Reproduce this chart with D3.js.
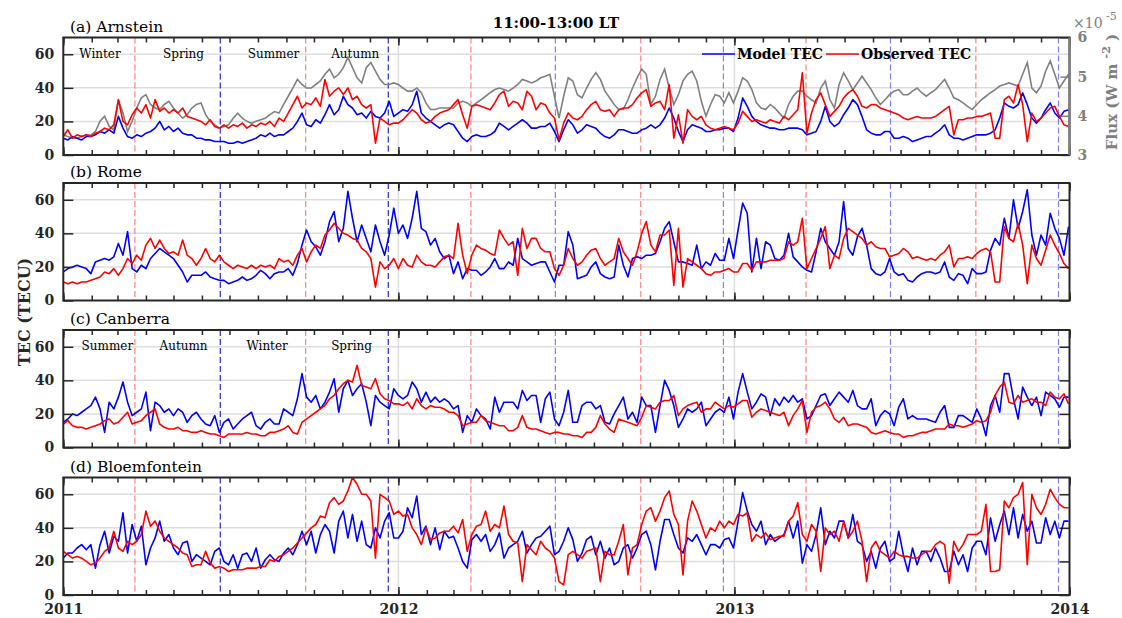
<!DOCTYPE html>
<html>
<head>
<meta charset="utf-8">
<script src="https://cdn.jsdelivr.net/npm/d3@7"></script>
<style>
  body { margin: 0; background: #fff; }
  text { font-family: "DejaVu Serif", serif; }
</style>
</head>
<body>
<div id="chart"></div>
<script>
const width = 1122;
const height = 618;

// one value every 5 days, starting 1 Jan 2011
const startDate = new Date(2011, 0, 1);
const stepDays = 5;

const stations = ['(a) Arnstein', '(b) Rome', '(c) Canberra', '(d) Bloemfontein'];
const yTicks = [0, 20, 40, 60];
const fluxTicks = [3, 4, 5, 6];
const yearLabels = ['2011', '2012', '2013', '2014'];
const seasonsNorth = ['Winter', 'Spring', 'Summer', 'Autumn'];
const seasonsSouth = ['Summer', 'Autumn', 'Winter', 'Spring'];
const seasonLabelDatesA = ['2011-02-10', '2011-05-12', '2011-08-18', '2011-11-15'];
const seasonLabelDatesC = ['2011-02-18', '2011-05-12', '2011-08-11', '2011-11-11'];
const equinoxDates = ['2011-03-20', '2011-09-22', '2012-03-20', '2012-09-21', '2013-03-20', '2013-09-21'];
const solsticeDates = ['2011-06-21', '2011-12-21', '2012-06-20', '2012-12-20', '2013-06-20', '2013-12-20'];

// Arnstein
const arnModel = [
  10, 9, 11, 10, 9, 11, 11, 12, 14, 13, 15, 13, 23, 16, 11, 10, 12, 11, 13, 14, 16, 20, 15, 17,
  14, 16, 13, 12, 12, 10, 10, 9, 9, 8, 8, 8, 7, 7, 8, 7, 8, 9, 10, 12, 11, 13, 11, 12,
  12, 14, 16, 20, 25, 18, 17, 21, 19, 24, 30, 24, 27, 35, 30, 28, 24, 25, 22, 26, 23, 22, 25, 32, 23,
  25, 27, 26, 30, 38, 25, 22, 20, 18, 16, 18, 19, 18, 14, 10, 8, 11, 12, 11, 11, 12, 14, 19, 17,
  15, 17, 19, 21, 19, 16, 16, 17, 17, 19, 14, 8, 15, 21, 18, 13, 15, 18, 17, 16, 13, 11, 10, 12,
  15, 15, 14, 13, 13, 15, 16, 18, 16, 18, 22, 28, 22, 14, 8, 15, 18, 17, 16, 14, 14, 15, 15, 16, 16,
  14, 22, 34, 29, 23, 20, 18, 17, 16, 16, 15, 15, 16, 16, 16, 15, 12, 13, 14, 20, 29, 20, 17, 19,
  24, 28, 33, 30, 23, 15, 13, 12, 12, 14, 14, 10, 10, 11, 10, 8, 9, 10, 11, 11, 13, 15, 18, 12,
  10, 10, 9, 10, 11, 12, 12, 12, 13, 15, 22, 31, 29, 28, 30, 37, 30, 22, 19, 22, 27, 31, 25, 22, 26,
  27
];
const arnObs = [
  11, 15, 10, 12, 11, 12, 11, 13, 14, 16, 15, 18, 33, 20, 18, 24, 28, 25, 30, 22, 33, 26, 28, 25,
  27, 25, 28, 23, 22, 21, 20, 18, 21, 17, 16, 18, 16, 18, 17, 19, 16, 18, 17, 19, 18, 20, 17, 22,
  20, 25, 30, 35, 28, 31, 30, 34, 29, 45, 35, 38, 40, 36, 40, 33, 35, 30, 28, 30, 7, 22, 20, 18, 19,
  19, 21, 24, 27, 25, 21, 19, 20, 23, 25, 26, 27, 30, 33, 24, 16, 29, 30, 29, 28, 27, 31, 36, 38,
  29, 32, 31, 27, 38, 35, 27, 31, 30, 25, 22, 9, 19, 25, 22, 21, 23, 27, 30, 32, 27, 26, 27, 23,
  27, 28, 28, 30, 34, 37, 39, 29, 31, 32, 27, 42, 10, 24, 7, 27, 23, 21, 23, 18, 16, 15, 16, 17, 16,
  15, 19, 26, 23, 20, 21, 20, 19, 21, 20, 19, 23, 21, 24, 27, 49, 13, 25, 33, 37, 30, 23, 26, 29,
  34, 37, 39, 35, 29, 28, 30, 30, 28, 27, 26, 25, 24, 22, 21, 22, 23, 22, 22, 22, 23, 25, 27, 29,
  12, 21, 21, 22, 22, 23, 23, 24, 25, 10, 10, 33, 35, 31, 42, 30, 8, 25, 20, 22, 25, 28, 29, 23, 18,
  17
];
// solar flux, x 1e-5 W m^-2
const arnFlux = [
  3.51, 3.47, 3.43, 3.43, 3.47, 3.51, 3.51, 3.60, 3.86, 3.99, 3.73, 3.64, 4.41, 4.07, 3.60, 3.86, 4.20, 4.46,
  4.54, 4.29, 4.20, 4.16, 4.29, 4.37, 4.20, 4.07, 3.94, 4.03, 4.20, 4.29, 4.33, 4.03, 3.86, 3.77, 3.69, 3.73,
  3.77, 3.94, 4.07, 3.94, 3.86, 3.81, 3.86, 3.90, 3.94, 4.03, 4.11, 4.07, 4.29, 4.50, 4.71, 4.93, 4.80, 4.71,
  4.71, 4.80, 4.89, 5.06, 5.19, 4.97, 5.06, 5.23, 5.49, 5.23, 4.97, 4.84, 5.23, 5.36, 5.14, 4.93, 4.80, 4.80, 4.84,
  4.80, 4.71, 4.63, 4.63, 4.71, 4.59, 4.33, 4.16, 4.16, 4.20, 4.20, 4.20, 4.20, 4.33, 4.37, 4.33, 4.24, 4.33,
  4.41, 4.50, 4.59, 4.67, 4.71, 4.67, 4.63, 4.71, 4.80, 4.93, 4.89, 4.84, 4.89, 4.97, 5.01, 5.06, 4.50, 3.94,
  4.50, 4.97, 4.89, 4.54, 4.46, 4.71, 4.93, 5.10, 4.93, 4.63, 4.46, 4.29, 4.16, 4.16, 4.41, 4.71, 4.97, 5.19,
  5.06, 4.29, 4.50, 4.93, 5.19, 4.71, 4.29, 4.54, 4.89, 5.06, 5.14, 4.89, 4.37, 3.99, 4.29, 4.54, 4.50, 4.33, 4.59,
  4.33, 4.63, 4.97, 4.89, 4.67, 4.33, 4.20, 4.16, 4.29, 4.20, 4.07, 3.94, 4.29, 4.50, 4.63, 4.63, 4.50, 4.41,
  4.33, 4.71, 4.89, 4.41, 4.20, 4.80, 5.10, 4.89, 4.67, 4.84, 5.01, 4.84, 4.67, 4.46, 4.29, 4.41, 4.54, 4.63,
  4.67, 4.54, 4.54, 4.63, 4.71, 4.59, 4.50, 4.59, 4.67, 4.80, 4.93, 4.71, 4.46, 4.41, 4.33, 4.24, 4.16, 4.29,
  4.41, 4.50, 4.59, 4.67, 4.76, 4.80, 4.84, 4.80, 4.76, 5.06, 5.36, 4.71, 4.59, 4.76, 5.14, 5.40, 5.06, 4.71, 4.89,
  5.06
];

// Rome
const romeModel = [
  17, 19, 20, 21, 20, 19, 16, 23, 24, 25, 24, 26, 34, 27, 41, 19, 17, 21, 19, 25, 28, 31, 29, 27,
  25, 21, 17, 11, 15, 15, 15, 17, 14, 13, 12, 12, 10, 11, 12, 14, 12, 13, 15, 18, 16, 13, 16, 17,
  17, 19, 15, 22, 33, 42, 35, 32, 27, 35, 47, 53, 35, 43, 65, 49, 35, 45, 37, 29, 45, 35, 27, 39, 55,
  40, 45, 37, 49, 65, 43, 41, 33, 37, 29, 25, 27, 16, 23, 13, 19, 18, 18, 15, 17, 20, 25, 19, 19,
  23, 21, 37, 25, 23, 21, 22, 23, 23, 17, 11, 21, 21, 41, 33, 13, 14, 15, 20, 23, 16, 14, 13, 14,
  33, 21, 14, 25, 26, 25, 27, 27, 28, 35, 43, 47, 35, 23, 23, 22, 21, 33, 19, 23, 21, 28, 24, 24, 37,
  25, 42, 58, 52, 17, 37, 19, 35, 33, 25, 24, 27, 40, 26, 23, 20, 18, 17, 29, 43, 35, 31, 27, 35,
  59, 31, 27, 38, 43, 33, 19, 16, 15, 17, 25, 17, 15, 16, 12, 11, 14, 16, 17, 17, 16, 17, 23, 14,
  12, 16, 15, 10, 19, 16, 16, 17, 30, 37, 33, 49, 37, 60, 43, 53, 66, 39, 27, 39, 33, 52, 43, 37, 27,
  44
];
const romeObs = [
  11, 10, 11, 10, 11, 11, 12, 13, 14, 17, 16, 19, 15, 19, 25, 22, 27, 24, 33, 37, 31, 36, 31, 28,
  29, 27, 36, 27, 25, 21, 25, 31, 25, 23, 27, 23, 21, 19, 21, 20, 19, 21, 19, 21, 20, 21, 19, 25,
  23, 24, 21, 27, 31, 23, 29, 33, 31, 39, 42, 46, 43, 40, 39, 37, 36, 31, 29, 25, 8, 23, 19, 21, 25,
  19, 25, 21, 20, 27, 23, 21, 21, 20, 23, 26, 27, 25, 46, 27, 16, 27, 33, 31, 30, 28, 27, 42, 37,
  33, 35, 15, 43, 31, 37, 37, 31, 29, 29, 19, 15, 21, 31, 25, 21, 23, 27, 30, 31, 25, 21, 23, 25,
  37, 29, 25, 21, 29, 40, 47, 33, 29, 39, 39, 42, 9, 43, 8, 25, 23, 21, 19, 16, 15, 17, 17, 18, 19,
  17, 17, 22, 22, 18, 23, 23, 23, 24, 24, 24, 25, 35, 33, 35, 49, 19, 25, 31, 37, 44, 19, 27, 25,
  37, 43, 41, 39, 37, 33, 35, 32, 31, 31, 26, 27, 28, 31, 29, 25, 26, 25, 24, 25, 24, 27, 29, 33,
  20, 25, 25, 26, 25, 28, 30, 31, 29, 11, 11, 44, 37, 35, 46, 33, 10, 33, 25, 21, 30, 39, 33, 28, 22,
  19
];

// Canberra
const canModel = [
  15, 17, 20, 19, 21, 23, 25, 30, 23, 9, 27, 23, 30, 39, 27, 19, 21, 23, 33, 10, 27, 25, 21, 23,
  19, 23, 21, 15, 19, 21, 17, 14, 13, 19, 9, 15, 17, 11, 14, 17, 19, 21, 13, 11, 15, 17, 14, 14,
  23, 21, 19, 29, 44, 30, 27, 31, 23, 27, 33, 41, 21, 35, 40, 31, 35, 38, 27, 13, 31, 27, 25, 23, 35,
  31, 29, 31, 39, 35, 27, 33, 27, 30, 27, 29, 27, 23, 25, 9, 19, 15, 23, 19, 17, 11, 30, 21, 27,
  27, 27, 23, 34, 28, 31, 31, 15, 29, 33, 17, 13, 21, 34, 15, 15, 25, 27, 27, 23, 25, 15, 14, 20,
  25, 30, 17, 21, 15, 30, 25, 25, 9, 25, 40, 34, 25, 12, 17, 23, 21, 23, 27, 13, 17, 21, 23, 21, 30,
  17, 33, 44, 33, 23, 27, 32, 30, 19, 29, 25, 30, 27, 31, 27, 29, 17, 19, 25, 31, 32, 25, 29, 33,
  30, 27, 34, 25, 23, 23, 29, 13, 19, 22, 20, 13, 24, 29, 17, 19, 17, 17, 17, 16, 15, 21, 25, 12,
  12, 19, 19, 17, 15, 23, 17, 7, 25, 31, 21, 44, 44, 29, 17, 36, 30, 25, 30, 19, 33, 31, 29, 24, 30,
  30
];
const canObs = [
  14, 16, 13, 12, 12, 11, 12, 13, 14, 16, 17, 14, 15, 18, 21, 14, 15, 16, 19, 21, 23, 14, 12, 11,
  11, 12, 10, 10, 9, 9, 10, 9, 8, 8, 7, 6, 8, 8, 8, 8, 9, 8, 8, 7, 7, 9, 9, 10,
  11, 13, 9, 8, 15, 17, 19, 21, 23, 25, 29, 31, 35, 38, 40, 39, 49, 37, 36, 35, 41, 32, 29, 28, 26,
  26, 25, 27, 23, 29, 25, 23, 25, 24, 24, 23, 21, 21, 19, 13, 14, 15, 15, 19, 16, 15, 14, 13, 13,
  10, 10, 12, 19, 12, 11, 11, 10, 9, 8, 9, 9, 8, 8, 7, 7, 6, 9, 9, 12, 19, 14, 11, 9,
  17, 16, 15, 14, 13, 18, 25, 24, 23, 27, 28, 28, 31, 19, 23, 25, 26, 27, 21, 23, 23, 27, 25, 23, 25,
  24, 26, 28, 28, 18, 21, 23, 22, 21, 20, 19, 21, 13, 19, 23, 28, 9, 21, 24, 25, 27, 23, 17, 15,
  18, 13, 14, 14, 13, 12, 9, 8, 9, 10, 9, 8, 8, 6, 7, 7, 8, 9, 9, 10, 11, 11, 11, 14,
  13, 13, 12, 13, 14, 16, 15, 16, 21, 31, 36, 39, 27, 26, 31, 27, 28, 29, 27, 27, 25, 33, 30, 29, 32,
  26
];

// Bloemfontein
const bloModel = [
  22, 25, 25, 28, 30, 27, 30, 16, 30, 38, 25, 35, 32, 49, 25, 42, 32, 41, 18, 28, 34, 44, 32, 36,
  28, 24, 31, 32, 20, 24, 22, 20, 18, 26, 28, 20, 18, 24, 16, 24, 25, 20, 28, 16, 21, 24, 21, 20,
  25, 28, 24, 30, 38, 30, 38, 25, 36, 42, 38, 25, 44, 50, 34, 48, 32, 44, 30, 28, 40, 34, 44, 49, 34,
  34, 38, 52, 46, 59, 36, 41, 30, 40, 27, 38, 34, 35, 28, 20, 16, 33, 36, 32, 36, 26, 30, 37, 22,
  28, 30, 32, 38, 25, 30, 34, 35, 38, 41, 24, 26, 32, 40, 33, 20, 25, 33, 35, 24, 32, 22, 28, 18,
  20, 28, 30, 22, 28, 36, 38, 30, 15, 32, 45, 45, 36, 28, 25, 34, 32, 36, 30, 24, 30, 30, 28, 33, 34,
  28, 44, 61, 50, 42, 38, 44, 30, 36, 32, 34, 36, 44, 34, 44, 19, 30, 26, 36, 52, 30, 38, 34, 44,
  44, 34, 48, 32, 30, 20, 26, 16, 28, 32, 20, 22, 38, 24, 14, 28, 18, 26, 26, 20, 28, 22, 14, 14,
  26, 18, 24, 14, 28, 32, 32, 24, 46, 32, 42, 50, 36, 52, 34, 48, 38, 44, 31, 31, 46, 36, 44, 34, 44,
  44
];
const bloObs = [
  26, 24, 22, 23, 22, 20, 18, 19, 22, 26, 28, 38, 28, 26, 32, 30, 32, 36, 50, 41, 44, 38, 34, 32,
  30, 28, 25, 24, 17, 18, 18, 26, 19, 16, 17, 16, 14, 15, 15, 15, 16, 16, 16, 17, 17, 21, 20, 23,
  24, 26, 28, 31, 34, 37, 40, 42, 47, 46, 55, 58, 54, 56, 62, 70, 66, 60, 60, 56, 22, 60, 58, 56, 48,
  50, 47, 48, 40, 36, 30, 40, 33, 34, 37, 38, 38, 41, 37, 45, 26, 36, 41, 42, 50, 38, 42, 40, 53,
  36, 32, 31, 8, 30, 27, 24, 32, 28, 26, 22, 8, 6, 24, 26, 24, 22, 26, 27, 28, 8, 26, 24, 24,
  32, 42, 12, 28, 30, 42, 50, 52, 44, 50, 58, 62, 48, 42, 12, 44, 56, 50, 42, 34, 40, 38, 44, 40, 44,
  42, 48, 47, 49, 32, 36, 34, 37, 33, 34, 35, 35, 44, 47, 55, 36, 32, 42, 38, 14, 40, 36, 38, 32,
  44, 34, 38, 44, 32, 8, 28, 32, 26, 24, 22, 26, 24, 23, 23, 22, 22, 24, 26, 26, 30, 32, 30, 7,
  32, 26, 30, 36, 36, 36, 38, 54, 14, 14, 15, 56, 52, 58, 60, 67, 18, 60, 52, 48, 54, 63, 58, 54, 52,
  52
];

const panels = [
  { label: stations[0], model: arnModel, obs: arnObs, flux: arnFlux, seasons: seasonsNorth, seasonDates: seasonLabelDatesA },
  { label: stations[1], model: romeModel, obs: romeObs },
  { label: stations[2], model: canModel, obs: canObs, seasons: seasonsSouth, seasonDates: seasonLabelDatesC },
  { label: stations[3], model: bloModel, obs: bloObs }
];

const panelTops = [37.5, 183, 330, 477.5];
const panelH = 117.5;
const left = 63.3, right = 1069.5;
const axisColor = '#262626';
const gridColor = '#dedede';
const fluxColor = '#808080';
const parse = d3.timeParse('%Y-%m-%d');

const svg = d3.select('#chart').append('svg')
  .attr('width', width)
  .attr('height', height);

const x = d3.scaleTime()
  .domain([new Date(2011, 0, 1), new Date(2014, 0, 1)])
  .range([left, right]);

const yearDates = yearLabels.map(d => new Date(+d, 0, 1));
const monthDates = d3.timeMonth.range(new Date(2011, 0, 1), new Date(2014, 0, 2));
const dateOf = i => d3.timeDay.offset(startDate, i * stepDays);

svg.append('defs').selectAll('clipPath')
  .data(panelTops)
  .join('clipPath')
  .attr('id', (d, i) => 'clip' + i)
  .append('rect')
  .attr('x', left).attr('y', d => d)
  .attr('width', right - left).attr('height', panelH);

panels.forEach((p, i) => {
  const top = panelTops[i];
  const bottom = top + panelH;
  const y = d3.scaleLinear().domain([0, 70]).range([bottom, top]);
  const g = svg.append('g');

  // grid
  g.selectAll('.hgrid').data(yTicks.slice(1)).join('line')
    .attr('x1', left).attr('x2', right)
    .attr('y1', d => y(d)).attr('y2', d => y(d))
    .attr('stroke', gridColor).attr('stroke-width', 1.5);
  g.selectAll('.vgrid').data(yearDates.slice(1, -1)).join('line')
    .attr('x1', d => x(d)).attr('x2', d => x(d))
    .attr('y1', top).attr('y2', bottom)
    .attr('stroke', gridColor).attr('stroke-width', 1.5);

  // season boundaries
  g.selectAll('.eq').data(equinoxDates).join('line')
    .attr('x1', d => x(parse(d))).attr('x2', d => x(parse(d)))
    .attr('y1', top).attr('y2', bottom)
    .attr('stroke', '#ff8080').attr('stroke-width', 1.2)
    .attr('stroke-dasharray', '6,3');
  g.selectAll('.sol').data(solsticeDates).join('line')
    .attr('x1', d => x(parse(d))).attr('x2', d => x(parse(d)))
    .attr('y1', top).attr('y2', bottom)
    .attr('stroke', d => d.startsWith('2011') ? '#2a2ad0' : '#8080ff')
    .attr('stroke-width', 1.2)
    .attr('stroke-dasharray', '6,3');

  const lines = g.append('g').attr('clip-path', `url(#clip${i})`);

  if (p.flux) {
    const yf = d3.scaleLinear().domain([3, 6]).range([bottom, top]);
    lines.append('path')
      .datum(p.flux)
      .attr('fill', 'none')
      .attr('stroke', fluxColor)
      .attr('stroke-width', 1.6)
      .attr('d', d3.line().x((d, k) => x(dateOf(k))).y(d => yf(d)));

    const ra = g.append('g')
      .attr('transform', `translate(${right},0)`)
      .call(d3.axisRight(yf).tickValues(fluxTicks).tickSize(-9).tickPadding(8).tickFormat(d3.format('d')));
    ra.select('.domain').remove();
    ra.selectAll('line').attr('stroke', fluxColor).attr('stroke-width', 1.5);
    ra.selectAll('text')
      .attr('fill', fluxColor).attr('font-family', 'DejaVu Serif')
      .attr('font-size', 14).attr('font-weight', 'bold');
  }

  const line = d3.line().x((d, k) => x(dateOf(k))).y(d => y(d));
  lines.append('path').datum(p.model)
    .attr('fill', 'none').attr('stroke', '#0000ff').attr('stroke-width', 1.6)
    .attr('stroke-linejoin', 'round').attr('d', line);
  lines.append('path').datum(p.obs)
    .attr('fill', 'none').attr('stroke', '#ff0000').attr('stroke-width', 1.6)
    .attr('stroke-linejoin', 'round').attr('d', line);

  // axes
  const la = g.append('g')
    .attr('transform', `translate(${left},0)`)
    .call(d3.axisLeft(y).tickValues(yTicks).tickSize(-10).tickPadding(9));
  la.select('.domain').remove();
  la.selectAll('text').attr('font-size', 14).attr('font-weight', 'bold')
    .attr('font-family', 'DejaVu Serif').attr('fill', axisColor);
  la.selectAll('line').attr('stroke', axisColor).attr('stroke-width', 1.5);

  if (!p.flux) {
    const rax = g.append('g')
      .attr('transform', `translate(${right},0)`)
      .call(d3.axisRight(y).tickValues(yTicks).tickSize(-10).tickFormat(''));
    rax.select('.domain').remove();
    rax.selectAll('line').attr('stroke', axisColor).attr('stroke-width', 1.5);
  }

  [[d3.axisBottom, bottom], [d3.axisTop, top]].forEach(([ax, pos]) => {
    const mt = g.append('g')
      .attr('transform', `translate(0,${pos})`)
      .call(ax(x).tickValues(monthDates).tickSize(-5).tickFormat(''));
    mt.select('.domain').remove();
    mt.selectAll('line').attr('stroke', axisColor).attr('stroke-width', 1.5);
    const yt = g.append('g')
      .attr('transform', `translate(0,${pos})`)
      .call(ax(x).tickValues(yearDates).tickSize(-8).tickPadding(9)
        .tickFormat((d, k) => (i === 3 && pos === bottom) ? yearLabels[k] : ''));
    yt.select('.domain').remove();
    yt.selectAll('line').attr('stroke', axisColor).attr('stroke-width', 1.5);
    yt.selectAll('text').attr('font-size', 14).attr('font-weight', 'bold')
      .attr('font-family', 'DejaVu Serif').attr('fill', axisColor);
  });

  // frame
  g.append('rect')
    .attr('x', left).attr('y', top)
    .attr('width', right - left).attr('height', panelH)
    .attr('fill', 'none').attr('stroke', axisColor).attr('stroke-width', 2);
  if (p.flux) {
    g.append('line')
      .attr('x1', right).attr('x2', right).attr('y1', top).attr('y2', bottom)
      .attr('stroke', fluxColor).attr('stroke-width', 2.5);
  }

  // station label
  g.append('text')
    .attr('x', 70).attr('y', top - 6)
    .attr('font-size', 15.5).attr('fill', '#000')
    .text(p.label);

  if (p.seasons) {
    g.selectAll('.season').data(p.seasons).join('text')
      .attr('x', (d, k) => x(parse(p.seasonDates[k])))
      .attr('y', top + 20)
      .attr('text-anchor', 'middle')
      .attr('font-size', 12).attr('fill', '#000')
      .text(d => d);
  }
});

// title
svg.append('text')
  .attr('x', 556).attr('y', 28)
  .attr('text-anchor', 'middle')
  .attr('font-size', 15).attr('font-weight', 'bold')
  .text('11:00-13:00 LT');

// y label
svg.append('text')
  .attr('transform', 'translate(30,312) rotate(-90)')
  .attr('text-anchor', 'middle')
  .attr('font-size', 16).attr('font-weight', 'bold')
  .attr('fill', axisColor)
  .text('TEC (TECU)');

// flux label
const fl = svg.append('text')
  .attr('transform', 'translate(1117,92) rotate(-90)')
  .attr('text-anchor', 'middle')
  .attr('font-size', 15).attr('font-weight', 'bold')
  .attr('fill', fluxColor);
fl.append('tspan').text('Flux (W m ');
fl.append('tspan').attr('dy', -7).attr('font-size', 11).text('-2');
fl.append('tspan').attr('dy', 7).text(' )');

const ex = svg.append('text')
  .attr('x', 1073).attr('y', 28)
  .attr('font-size', 14).attr('fill', fluxColor);
ex.append('tspan').text('\u00d710');
ex.append('tspan').attr('dy', -8).attr('font-size', 11).text(' -5');

// legend
const legend = svg.append('g').attr('transform', 'translate(0,54)');
const legendItems = [
  { name: 'Model TEC', color: '#0000ff', x0: 702 },
  { name: 'Observed TEC', color: '#ff0000', x0: 826 }
];
legendItems.forEach(d => {
  legend.append('line')
    .attr('x1', d.x0).attr('x2', d.x0 + 33).attr('y1', 0).attr('y2', 0)
    .attr('stroke', d.color).attr('stroke-width', 1.6);
  legend.append('text')
    .attr('x', d.x0 + 35).attr('y', 5)
    .attr('font-size', 14).attr('font-weight', 'bold')
    .text(d.name);
});
</script>
</body>
</html>
